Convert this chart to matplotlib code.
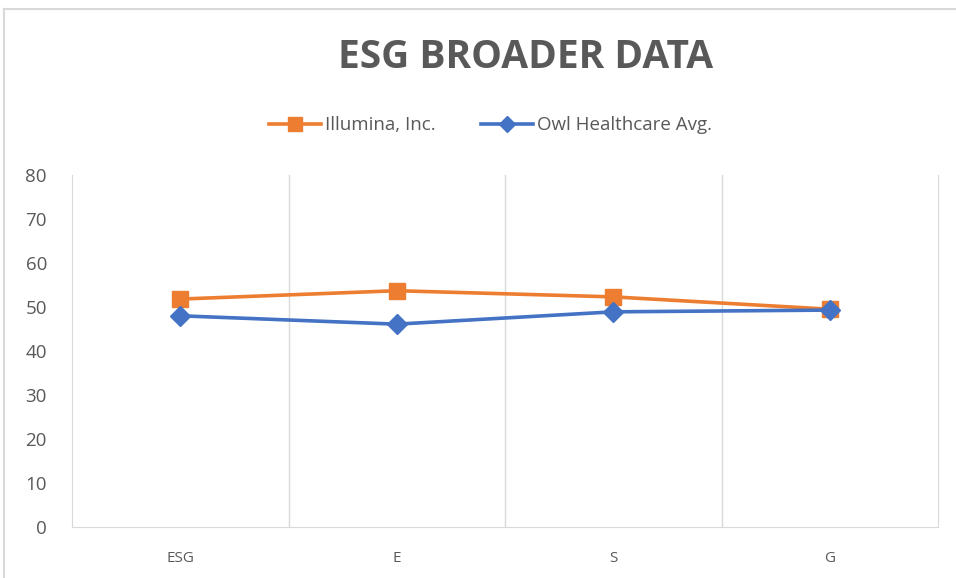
import matplotlib.pyplot as plt
from matplotlib.lines import Line2D

categories = ["ESG", "E", "S", "G"]
illumina = [51.8, 53.7, 52.3, 49.5]
owl_avg = [48.0, 46.1, 48.9, 49.3]
y_ticks = [0, 10, 20, 30, 40, 50, 60, 70, 80]

plt.rcParams['font.family'] = ['Open Sans', 'DejaVu Sans']

fig = plt.figure(figsize=(9.56, 5.78), dpi=100)
ax = fig.add_axes([72 / 956, 51 / 578, 866 / 956, 352 / 578])

x = list(range(len(categories)))
ax.plot(x, illumina, color='#ED7D31', lw=2.6, marker='s', ms=12,
        label='Illumina, Inc.', zorder=3)
ax.plot(x, owl_avg, color='#4472C4', lw=2.6, marker='D', ms=10,
        label='Owl Healthcare Avg.', zorder=4)

ax.set_xlim(-0.5, 3.5)
ax.set_ylim(0, 80)
ax.set_yticks(y_ticks)
ax.set_xticks(x)
ax.set_xticklabels(categories)
ax.set_xticks([0.5, 1.5, 2.5], minor=True)
ax.grid(True, which='minor', axis='x', color='#d9d9d9', lw=1)
ax.tick_params(which='both', length=0)
ax.tick_params(axis='y', labelsize=13.5, labelcolor='#595959', pad=18)
ax.tick_params(axis='x', labelsize=11, labelcolor='#595959', pad=17)

for side in ['left', 'right', 'bottom']:
    ax.spines[side].set_color('#d9d9d9')
ax.spines['top'].set_visible(False)

fig.text(0.55, 0.901, "ESG BROADER DATA", ha='center', va='center',
         fontsize=28, fontweight='bold', color='#595959')

fig.legend(loc='center', bbox_to_anchor=(0.513, 0.783), ncol=2, frameon=False,
           fontsize=13.5, labelcolor='#595959', handlelength=2.8,
           columnspacing=2.4, handletextpad=0.2, markerscale=0.85)

# chart frame
fig.add_artist(Line2D([4 / 956, 4 / 956], [0, 1 - 9 / 578], color='#d9d9d9', lw=1.5))
fig.add_artist(Line2D([4 / 956, 1], [1 - 9 / 578, 1 - 9 / 578], color='#d9d9d9', lw=1.5))

fig.savefig('out.png', dpi=100)
